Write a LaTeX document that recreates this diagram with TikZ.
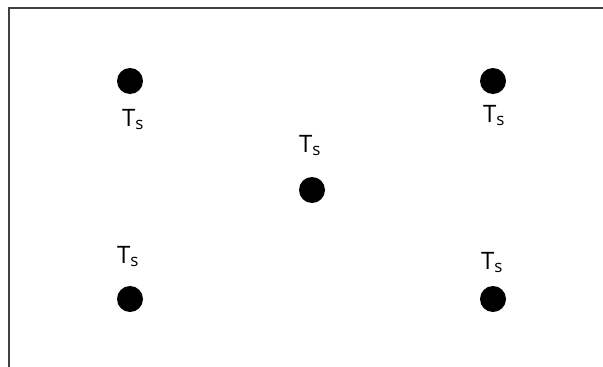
\documentclass[tikz,border=0pt]{standalone}
\usepackage{fontspec}
\setmainfont{Open Sans}
\newcommand{\tslabel}{{\fontsize{24}{28}\selectfont T}\raisebox{-3pt}{\fontsize{17}{20}\selectfont s}}
\begin{document}
\begin{tikzpicture}[x=1pt,y=-1pt,
  dot/.style={circle,fill=black,draw=none,minimum size=26pt,inner sep=0pt},
  tlab/.style={anchor=base west,inner sep=0pt,outer sep=0pt},
  frameline/.style={draw=black!75,line width=1.2pt}]
\useasboundingbox (0,0) rectangle (603,367);
\coordinate (fa) at (603,8);
\coordinate (fb) at (9,8);
\coordinate (fc) at (9,367);
\draw[frameline] (fa) -- (fb) -- (fc);
\node[dot] (d1) at (130,81) {};
\node[dot] (d2) at (493,81) {};
\node[dot] (d3) at (312,190) {};
\node[dot] (d4) at (130,299) {};
\node[dot] (d5) at (493,299) {};
\node[tlab] (l1) at (122,126) {\tslabel};
\node[tlab] (l2) at (483,122) {\tslabel};
\node[tlab] (l3) at (299,152) {\tslabel};
\node[tlab] (l4) at (117,263) {\tslabel};
\node[tlab] (l5) at (481,269) {\tslabel};
\end{tikzpicture}
\end{document}
